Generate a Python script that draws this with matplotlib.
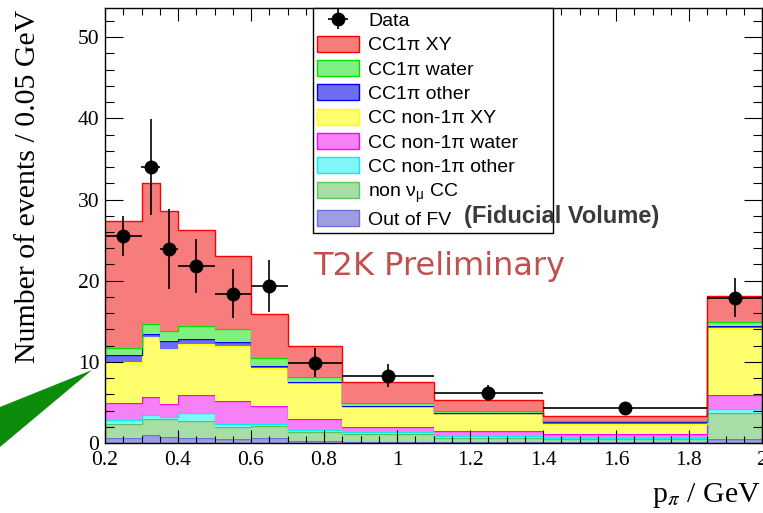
import numpy as np
import matplotlib
matplotlib.use("Agg")
import matplotlib.pyplot as plt
from matplotlib.patches import Patch, Polygon
from matplotlib.ticker import MultipleLocator, FixedLocator

plt.rcParams['mathtext.fontset'] = 'stix'

# bin edges in p_pi (GeV)
edges = [0.2, 0.3, 0.35, 0.4, 0.5, 0.6, 0.7, 0.85, 1.1, 1.4, 1.85, 2.0]

# MC components, events / 0.05 GeV (stacked from the bottom up)
out_fv        = [0.65, 1.0, 0.8, 0.65, 0.55, 0.65, 0.3, 0.15, 0.1, 0.1, 0.45]
non_numu      = [1.75, 2.0, 2.1, 2.1, 1.45, 1.45, 1.0, 0.95, 0.55, 0.4, 3.2]
non1pi_other  = [0.4, 0.4, 0.3, 0.95, 0.35, 0.3, 0.3, 0.3, 0.2, 0.15, 0.5]
non1pi_water  = [2.1, 2.3, 1.6, 2.2, 2.85, 2.2, 1.4, 0.6, 0.65, 0.5, 1.8]
non1pi_xy     = [5.1, 7.3, 6.8, 6.3, 6.7, 4.7, 4.35, 2.5, 2.15, 1.25, 8.25]
cc1pi_other   = [0.8, 0.4, 1.0, 0.6, 0.6, 0.2, 0.15, 0.1, 0.1, 0.2, 0.25]
cc1pi_water   = [0.9, 1.3, 1.2, 1.6, 1.5, 1.0, 0.6, 0.3, 0.15, 0.15, 0.45]
cc1pi_xy      = [15.6, 17.3, 14.8, 11.9, 9.0, 5.35, 3.85, 2.6, 1.45, 0.55, 3.2]

# data points
data_y   = [25.5, 34.0, 23.9, 21.8, 18.4, 19.4, 9.9, 8.3, 6.2, 4.27, 17.9]
data_err = [2.5, 5.9, 4.9, 3.3, 3.0, 3.2, 1.8, 1.4, 1.0, 0.6, 2.4]

layers = [
    (out_fv,       '#9d9de2', '#7070d8', 'Out of FV'),
    (non_numu,     '#a6dea6', '#55c855', r'non $\mathregular{\nu_{\mu}}$ CC'),
    (non1pi_other, '#80f6f6', '#00f0f0', 'CC non-1\u03c0 other'),
    (non1pi_water, '#f680f6', '#ff00ff', 'CC non-1\u03c0 water'),
    (non1pi_xy,    '#ffff6e', '#ffff00', 'CC non-1\u03c0 XY'),
    (cc1pi_other,  '#6e6ef0', '#0000ff', 'CC1\u03c0 other'),
    (cc1pi_water,  '#80f080', '#00e000', 'CC1\u03c0 water'),
    (cc1pi_xy,     '#f77c7c', '#ff0000', 'CC1\u03c0 XY'),
]

fig = plt.figure(figsize=(7.63, 5.13), dpi=100)
ax = fig.add_axes([105 / 763, 70 / 513, 657 / 763, 435 / 513])

edges = np.array(edges)
bottom = np.zeros(len(edges) - 1)
handles = []
for vals, fc, ec, lab in layers:
    top = bottom + np.array(vals)
    ax.stairs(top, edges, baseline=bottom, fill=True, color=fc, lw=0)
    ax.stairs(top, edges, baseline=None, color=ec, lw=1.0)
    handles.append(Patch(facecolor=fc, edgecolor=ec, lw=1.0, label=lab))
    bottom = top

centers = 0.5 * (edges[1:] + edges[:-1])
half = 0.5 * np.diff(edges)
eb = ax.errorbar(centers, data_y, xerr=half, yerr=data_err, fmt='o', color='black',
                 ms=9, lw=1.2, capsize=0, zorder=5)

ax.set_xlim(0.2, 2.0)
ax.set_ylim(0, 53.6)
ax.xaxis.set_major_locator(FixedLocator([0.2, 0.4, 0.6, 0.8, 1.0, 1.2, 1.4, 1.6, 1.8, 2.0]))
ax.set_xticklabels(['0.2', '0.4', '0.6', '0.8', '1', '1.2', '1.4', '1.6', '1.8', '2'])
ax.xaxis.set_minor_locator(MultipleLocator(0.05))
ax.yaxis.set_major_locator(MultipleLocator(10))
ax.yaxis.set_minor_locator(MultipleLocator(2))

serif = 'Liberation Serif'
for lbl in ax.get_xticklabels() + ax.get_yticklabels():
    lbl.set_fontfamily(serif)
    lbl.set_fontsize(15.5)
ax.tick_params(axis='x', which='major', direction='in', length=9.5, width=0.8,
               top=True, pad=6)
ax.tick_params(axis='x', which='minor', direction='in', length=5, width=0.8, top=True)
ax.tick_params(axis='y', which='major', direction='in', length=13, width=0.8,
               right=True, pad=4)
ax.tick_params(axis='y', which='minor', direction='in', length=6.5, width=0.8, right=True)
for s in ax.spines.values():
    s.set_linewidth(1.0)

handles = [eb] + handles[::-1]
labels = ['Data'] + [l[3] for l in layers[::-1]]
leg_w = 240 / 657
leg_h = 221 / 435
leg = ax.legend(handles, labels, loc='upper left', mode='expand',
                bbox_to_anchor=(208 / 657, 1.0 - leg_h, leg_w, leg_h),
                borderaxespad=0, fancybox=False, framealpha=1, edgecolor='black',
                prop={'family': 'Liberation Sans', 'size': 14},
                handlelength=2.2, handleheight=0.88, handletextpad=0.45,
                labelspacing=0.29, borderpad=0.18)
leg.get_frame().set_linewidth(1.0)
leg.set_zorder(10)

fig.text(464 / 763, 1 - 217 / 513, '(Fiducial Volume)', fontsize=17,
         fontweight='bold', family='Liberation Sans', color='#3a3a3a',
         ha='left', va='center', zorder=20)
fig.text(313 / 763, 1 - 267 / 513, 'T2K Preliminary', fontsize=23,
         family='DejaVu Sans', color='#c0504d', ha='left', va='center')

fig.text(28 / 763, 1 - 10 / 513, 'Number of events / 0.05 GeV', rotation=90,
         family=serif, fontsize=21.5, ha='center', va='top')
fig.text(761 / 763, 1 - 502 / 513, r'p$_{\pi}$ / GeV', family=serif, fontsize=21.5,
         ha='right', va='baseline')

# green pointer wedge at the left edge
wedge = [(92 / 763, 1 - 370 / 513), (0, 1 - 407 / 513), (0, 1 - 447 / 513)]
fig.patches.append(Polygon(wedge, closed=True, transform=fig.transFigure,
                           facecolor='#0b8c0b', edgecolor='none'))

fig.savefig('out.png', dpi=100)
